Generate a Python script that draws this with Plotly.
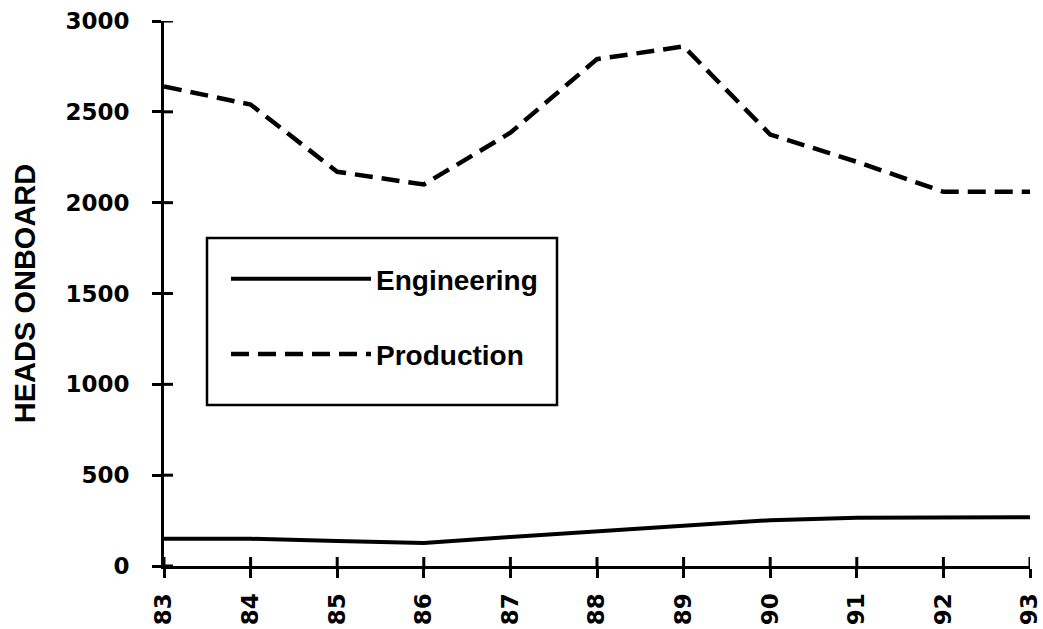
import plotly.graph_objects as go

years = [83, 84, 85, 86, 87, 88, 89, 90, 91, 92, 93]
year_labels = ["83", "84", "85", "86", "87", "88", "89", "90", "91", "92", "93"]
engineering = [150, 150, 138, 127, 160, 191, 221, 252, 265, 268, 268]
production = [2640, 2540, 2170, 2100, 2385, 2790, 2860, 2375, 2225, 2060, 2060]
y_ticks = [0, 500, 1000, 1500, 2000, 2500, 3000]

W, H = 1043, 629
ML, MR, MT, MB = 164, 13, 21, 63
PW, PH = W - ML - MR, H - MT - MB
INNER = 9  # inner half of the crossing tick marks, px

tick_font = dict(family="DejaVu Sans", size=23, color="black", weight="bold")

fig = go.Figure()
fig.add_trace(go.Scatter(
    x=years, y=engineering, mode="lines", name="Engineering",
    line=dict(color="black", width=4), legendgroup="eng"))
fig.add_trace(go.Scatter(
    x=years, y=production, mode="lines", name="Production",
    line=dict(color="black", width=4.5, dash="18px,9px"), legendgroup="prod"))

# inner halves of the crossing tick marks, placed through the axis scales
shapes = []
for v in y_ticks:
    shapes.append(dict(type="line", xref="paper", yref="y",
                       x0=0, x1=INNER / PW, y0=v, y1=v,
                       line=dict(color="black", width=3)))
for v in years:
    shapes.append(dict(type="line", xref="x", yref="paper",
                       x0=v, x1=v, y0=0, y1=INNER / PH,
                       line=dict(color="black", width=3)))
# legend frame
shapes.append(dict(
    type="rect", xref="paper", yref="paper",
    x0=(207 - ML) / PW, x1=(557 - ML) / PW,
    y0=1 - (405 - MT) / PH, y1=1 - (238 - MT) / PH,
    line=dict(color="black", width=2.5), fillcolor="rgba(0,0,0,0)",
))

fig.update_layout(
    width=W, height=H,
    margin=dict(l=ML, r=MR, t=MT, b=MB),
    paper_bgcolor="white", plot_bgcolor="white",
    showlegend=True,
    legend=dict(
        x=(226 - ML) / PW, y=1 - (254 - MT) / PH,
        xanchor="left", yanchor="top",
        bgcolor="rgba(0,0,0,0)", borderwidth=0,
        font=dict(family="Liberation Sans", size=28, color="black", weight="bold"),
        itemwidth=140, traceorder="grouped", tracegroupgap=36,
    ),
    xaxis=dict(
        range=[83, 93], tickvals=years, ticktext=year_labels,
        tickangle=-90, tickfont=tick_font,
        ticks="outside", ticklen=9, tickwidth=3, tickcolor="black",
        ticklabelstandoff=6, ticklabeloverflow="allow",
        showline=True, linewidth=3, linecolor="black",
        showgrid=False, zeroline=False, automargin=False,
    ),
    yaxis=dict(
        range=[0, 3000], tickvals=y_ticks,
        tickfont=tick_font,
        ticks="outside", ticklen=9, tickwidth=3, tickcolor="black",
        ticklabelstandoff=18,
        showline=True, linewidth=3, linecolor="black",
        showgrid=False, zeroline=False, automargin=False,
        title=dict(text="HEADS ONBOARD", standoff=22,
                   font=dict(family="Liberation Sans", size=29, color="black", weight="bold")),
    ),
    shapes=shapes,
)

fig.write_html("out.html")
